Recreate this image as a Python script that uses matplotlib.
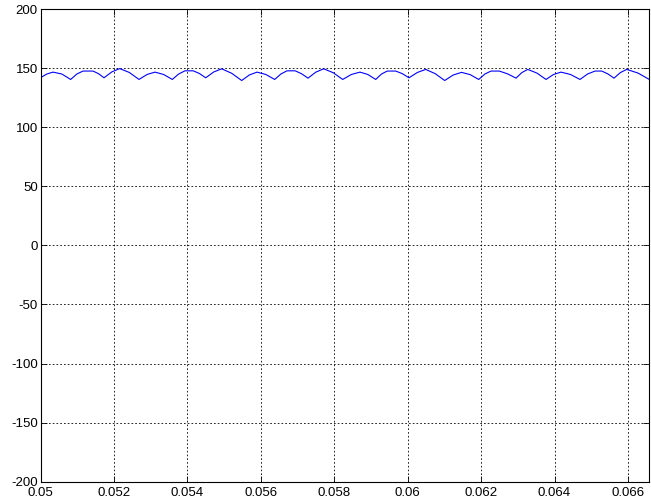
import matplotlib
matplotlib.use("Agg")
import matplotlib.pyplot as plt

# ripple waveform vertices (time in s, value)
t = [
    0.05000, 0.050168, 0.050335, 0.050576, 0.050817, 0.050985, 0.051153,
    0.051425, 0.051575, 0.051725, 0.051939, 0.052153, 0.052416, 0.052679,
    0.052897, 0.053114, 0.053350, 0.053586, 0.053759, 0.053932, 0.054158,
    0.054327, 0.054496, 0.054714, 0.054932, 0.055205, 0.055477, 0.055686,
    0.055894, 0.056135, 0.056376, 0.056544, 0.056711, 0.056937, 0.057110,
    0.057283, 0.057497, 0.057711, 0.057970, 0.058229, 0.058465, 0.058700,
    0.058914, 0.059128, 0.059286, 0.059444, 0.059673, 0.059854, 0.060035,
    0.060263, 0.060490, 0.060749, 0.061008, 0.061237, 0.061466, 0.061700,
    0.061935, 0.062103, 0.062270, 0.062496, 0.062724, 0.062951, 0.063110,
    0.063270, 0.063520, 0.063769, 0.063973, 0.064177, 0.064436, 0.064695,
    0.064900, 0.065104, 0.065286, 0.065454, 0.065621, 0.065794, 0.065967,
    0.066275, 0.066583,
]
v = [
    142.0, 145.0, 146.6, 145.0, 140.4, 145.0, 147.5,
    147.5, 145.3, 141.8, 146.8, 149.6, 146.3, 140.4,
    144.6, 146.6, 144.6, 140.4, 145.0, 147.7, 147.7,
    145.4, 141.8, 146.7, 149.4, 145.6, 139.5, 144.2,
    146.6, 144.6, 140.4, 145.0, 147.7, 147.7, 145.2,
    141.5, 146.6, 149.4, 146.1, 140.4, 144.6, 146.6,
    144.6, 140.4, 145.0, 147.5, 147.5, 145.3, 141.8,
    146.3, 148.9, 145.3, 139.5, 144.1, 146.4, 144.5,
    140.4, 145.0, 147.5, 147.5, 145.1, 141.5, 146.2,
    148.9, 145.8, 140.4, 144.6, 146.6, 144.6, 140.4,
    145.0, 147.5, 147.5, 145.1, 141.5, 146.2, 148.9,
    145.8, 140.4,
]

xticks = [0.05, 0.052, 0.054, 0.056, 0.058, 0.06, 0.062, 0.064, 0.066]
xlabels = ["0.05", "0.052", "0.054", "0.056", "0.058", "0.06", "0.062", "0.064", "0.066"]
yticks = [-200, -150, -100, -50, 0, 50, 100, 150, 200]

plt.rcParams["font.family"] = ["Liberation Sans", "DejaVu Sans"]

fig = plt.figure(figsize=(6.51, 5.01), dpi=100)
ax = fig.add_axes([0.0625, 0.0385, 0.9349, 0.9435])

ax.plot(t, v, color="#0000ff", linewidth=0.8)

ax.set_xlim(0.05, 0.066583)
ax.set_ylim(-200, 200)
ax.set_xticks(xticks)
ax.set_xticklabels(xlabels)
ax.set_yticks(yticks)
ax.set_yticklabels([str(y) for y in yticks])

ax.grid(True, color="black", linestyle=(0, (2, 2.5)), linewidth=0.6)
ax.tick_params(direction="in", length=4, width=0.6, labelsize=9.5,
               top=True, right=True)
ax.tick_params(axis="x", pad=4)
ax.tick_params(axis="y", pad=2)
for s in ax.spines.values():
    s.set_linewidth(0.8)

fig.savefig("out.png", dpi=100)
